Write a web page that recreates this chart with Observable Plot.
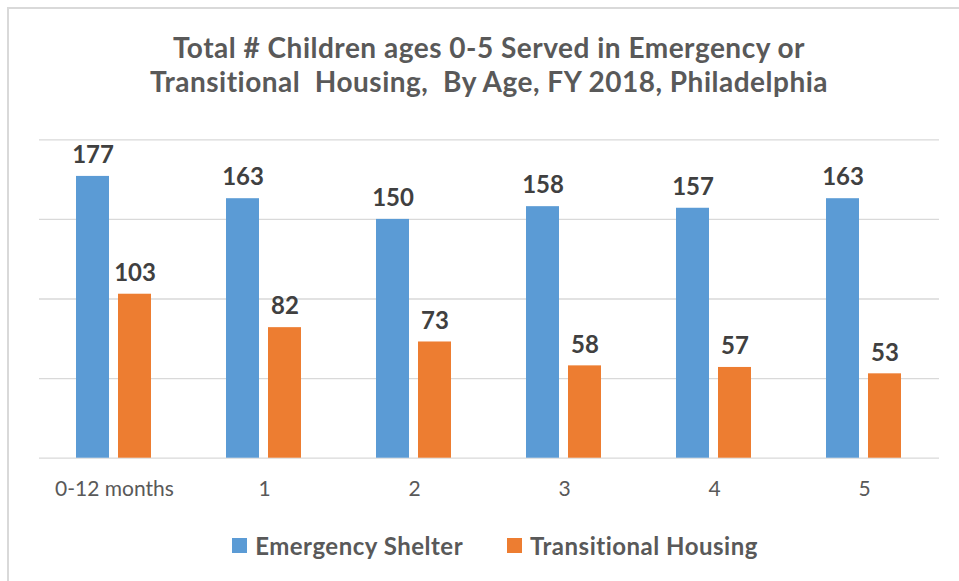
<!DOCTYPE html>
<html><head><meta charset="utf-8">
<script src="https://cdn.jsdelivr.net/npm/d3@7"></script>
<script src="https://cdn.jsdelivr.net/npm/@observablehq/plot@0.6"></script>
<style>
body{margin:0;background:#fff;}
#wrap{position:relative;width:959px;height:581px;overflow:hidden;font-family:Lato,sans-serif;background:#fff;}
#frame{position:absolute;left:7px;top:7px;width:1000px;height:1000px;border-top:2px solid #d9d9d9;border-left:2px solid #d9d9d9;}
#title{position:absolute;left:0;top:30px;width:978px;text-align:center;font-size:28px;line-height:34px;font-weight:bold;letter-spacing:0.5px;color:#595959;}
#chart{position:absolute;left:0;top:110px;}
#legend{position:absolute;left:0;top:531px;width:990px;display:flex;justify-content:center;align-items:center;font-size:24px;font-weight:bold;letter-spacing:0.5px;color:#595959;}
.item{display:flex;align-items:center;margin:0 22px;}
.sw{width:15px;height:15px;margin-right:8px;}
</style></head>
<body>
<div id="wrap">
  <div id="frame"></div>
  <div id="title">Total # Children ages 0-5 Served in Emergency or<br>Transitional&nbsp; Housing,&nbsp; By Age, FY 2018, Philadelphia</div>
  <div id="chart"></div>
  <div id="legend"></div>
</div>
<script>
const ages = ["0-12 months", "1", "2", "3", "4", "5"];
const series = ["Emergency Shelter", "Transitional Housing"];
const emergency = [177, 163, 150, 158, 157, 163];
const transitional = [103, 82, 73, 58, 57, 53];
const colors = ["#5B9BD5", "#ED7D31"];
const gridValues = [0, 50, 100, 150, 200];

const rows = ages.flatMap((a, i) => [
  {age: a, series: series[0], value: emergency[i]},
  {age: a, series: series[1], value: transitional[i]}
]);

const chart = Plot.plot({
  width: 959,
  height: 410,
  marginTop: 29.3,
  marginBottom: 62.3,
  marginLeft: 37,
  marginRight: 18,
  style: {fontFamily: "Lato, sans-serif", fontSize: "21px", color: "#595959", background: "transparent", overflow: "visible"},
  fx: {domain: ages, padding: 0, label: null, tickSize: 0, tickPadding: 23, axis: "bottom"},
  x: {domain: series, paddingInner: 0.21, paddingOuter: 0.87, axis: null},
  y: {domain: [0, 200], axis: null},
  color: {domain: series, range: colors},
  marks: [
    Plot.ruleY(gridValues, {stroke: "#d9d9d9", strokeWidth: 1.3, strokeOpacity: 1}),
    Plot.barY(rows, {fx: "age", x: "series", y: "value", fill: "series"}),
    Plot.text(rows, {fx: "age", x: "series", y: "value", text: d => String(d.value), dy: -21, fontSize: 24, fontWeight: "bold", fill: "#404040"})
  ]
});
document.getElementById("chart").appendChild(chart);

const legend = d3.select("#legend");
series.forEach((s, i) => {
  const it = legend.append("div").attr("class", "item");
  it.append("div").attr("class", "sw").style("background", colors[i]);
  it.append("span").text(s);
});
</script>
</body></html>
